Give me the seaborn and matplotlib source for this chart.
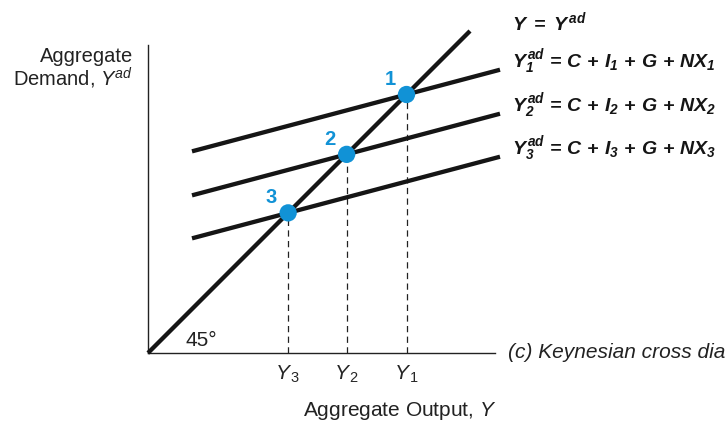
import numpy as np
import pandas as pd
import matplotlib
matplotlib.use("Agg")
import matplotlib.pyplot as plt
import seaborn as sns

# ---- data ----
labels = ["1", "2", "3"]
autonomous = [190.0, 146.0, 103.0]      # C + I_i + G + NX_i
mpc = 0.265                              # slope of aggregate demand lines
ad_range = [44.0, 352.0]                 # output range over which AD lines are drawn
line45_range = [0.0, 322.0]
tick_labels = [r"$\mathit{Y}_{\,1}$", r"$\mathit{Y}_{\,2}$", r"$\mathit{Y}_{\,3}$"]
equations = [
    r"$\mathbf{Y_{1}^{\,ad}\,=\,C\,+\,I_{1}\,+\,G\,+\,NX_{1}}$",
    r"$\mathbf{Y_{2}^{\,ad}\,=\,C\,+\,I_{2}\,+\,G\,+\,NX_{2}}$",
    r"$\mathbf{Y_{3}^{\,ad}\,=\,C\,+\,I_{3}\,+\,G\,+\,NX_{3}}$",
]

equilibria = [a / (1 - mpc) for a in autonomous]

sns.set_theme(style="white")
plt.rcParams["font.family"] = ["Liberation Sans", "DejaVu Sans"]
plt.rcParams["mathtext.fontset"] = "custom"
plt.rcParams["mathtext.rm"] = "Liberation Sans"
plt.rcParams["mathtext.it"] = "Liberation Sans:italic"
plt.rcParams["mathtext.bf"] = "Liberation Sans:bold:italic"

W, H = 728, 421
fig = plt.figure(figsize=(W / 100, H / 100), dpi=100)
ax = fig.add_axes([148 / W, (H - 353) / H, 347 / W, 308 / H])
ax.set_xlim(0, 347)
ax.set_ylim(0, 308)

blue = "#1192D6"
ink = "#151515"
lw = 3.1

# 45-degree line
df45 = pd.DataFrame({"x": line45_range, "y": line45_range})
sns.lineplot(data=df45, x="x", y="y", ax=ax, color=ink, lw=lw,
             solid_capstyle="butt", clip_on=False, zorder=3)

# AD lines
rows = []
for lab, a in zip(labels, autonomous):
    for x in ad_range:
        rows.append({"line": lab, "x": x, "y": a + mpc * x})
dfad = pd.DataFrame(rows)
sns.lineplot(data=dfad, x="x", y="y", hue="line", palette=[ink] * 3,
             ax=ax, lw=lw, legend=False, solid_capstyle="butt", clip_on=False, zorder=3)

# dashed drop lines
for e in equilibria:
    ax.plot([e, e], [0, e], color="#222222", lw=0.9, ls=(0, (5, 3.5)), zorder=2)

# equilibrium points
dfp = pd.DataFrame({"x": equilibria, "y": equilibria, "lab": labels})
sns.scatterplot(data=dfp, x="x", y="y", ax=ax, s=155, color=blue,
                edgecolor="none", zorder=5, clip_on=False, legend=False)
for lab, e in zip(labels, equilibria):
    ax.annotate(lab, (e, e), xytext=(-12, 11), textcoords="offset points",
                color=blue, fontsize=14.5, fontweight="bold", ha="center", va="center")

# axes styling
for s in ["top", "right"]:
    ax.spines[s].set_visible(False)
for s in ["left", "bottom"]:
    ax.spines[s].set_color("#222222")
    ax.spines[s].set_linewidth(1.0)
ax.set_yticks([])
ax.set_xticks(equilibria)
ax.set_xticklabels(tick_labels, fontsize=15)
ax.tick_params(axis="x", length=0, pad=8)
ax.set_xlabel("")
ax.set_ylabel("")

# axis titles
ax.text(-15, 291, "Aggregate", ha="right", va="baseline", fontsize=14.5,
        color="#222222", clip_on=False)
ax.text(-15, 267, "Demand, $\\mathit{Y}^{ad}$", ha="right", va="baseline",
        fontsize=14.5, color="#222222", clip_on=False)
ax.text(252, -58, "Aggregate Output, $\\mathit{Y}$", ha="center", va="center",
        fontsize=15, color="#222222", clip_on=False)
ax.text(53, 13, "45°", ha="center", va="center", fontsize=15, color="#222222")

# equations
ax.text(364, 331, r"$\mathbf{Y\ =\ Y^{\,ad}}$", ha="left", va="center",
        fontsize=14, color=ink, clip_on=False)
for eq, a in zip(equations, autonomous):
    yend = a + mpc * ad_range[1]
    ax.text(364, yend + 8, eq, ha="left", va="center", fontsize=14,
            color=ink, clip_on=False)

ax.text(360, 0, "(c) Keynesian cross dia", ha="left", va="center",
        fontsize=15, style="italic", color="#222222", clip_on=False)

fig.savefig("out.png", dpi=100)
